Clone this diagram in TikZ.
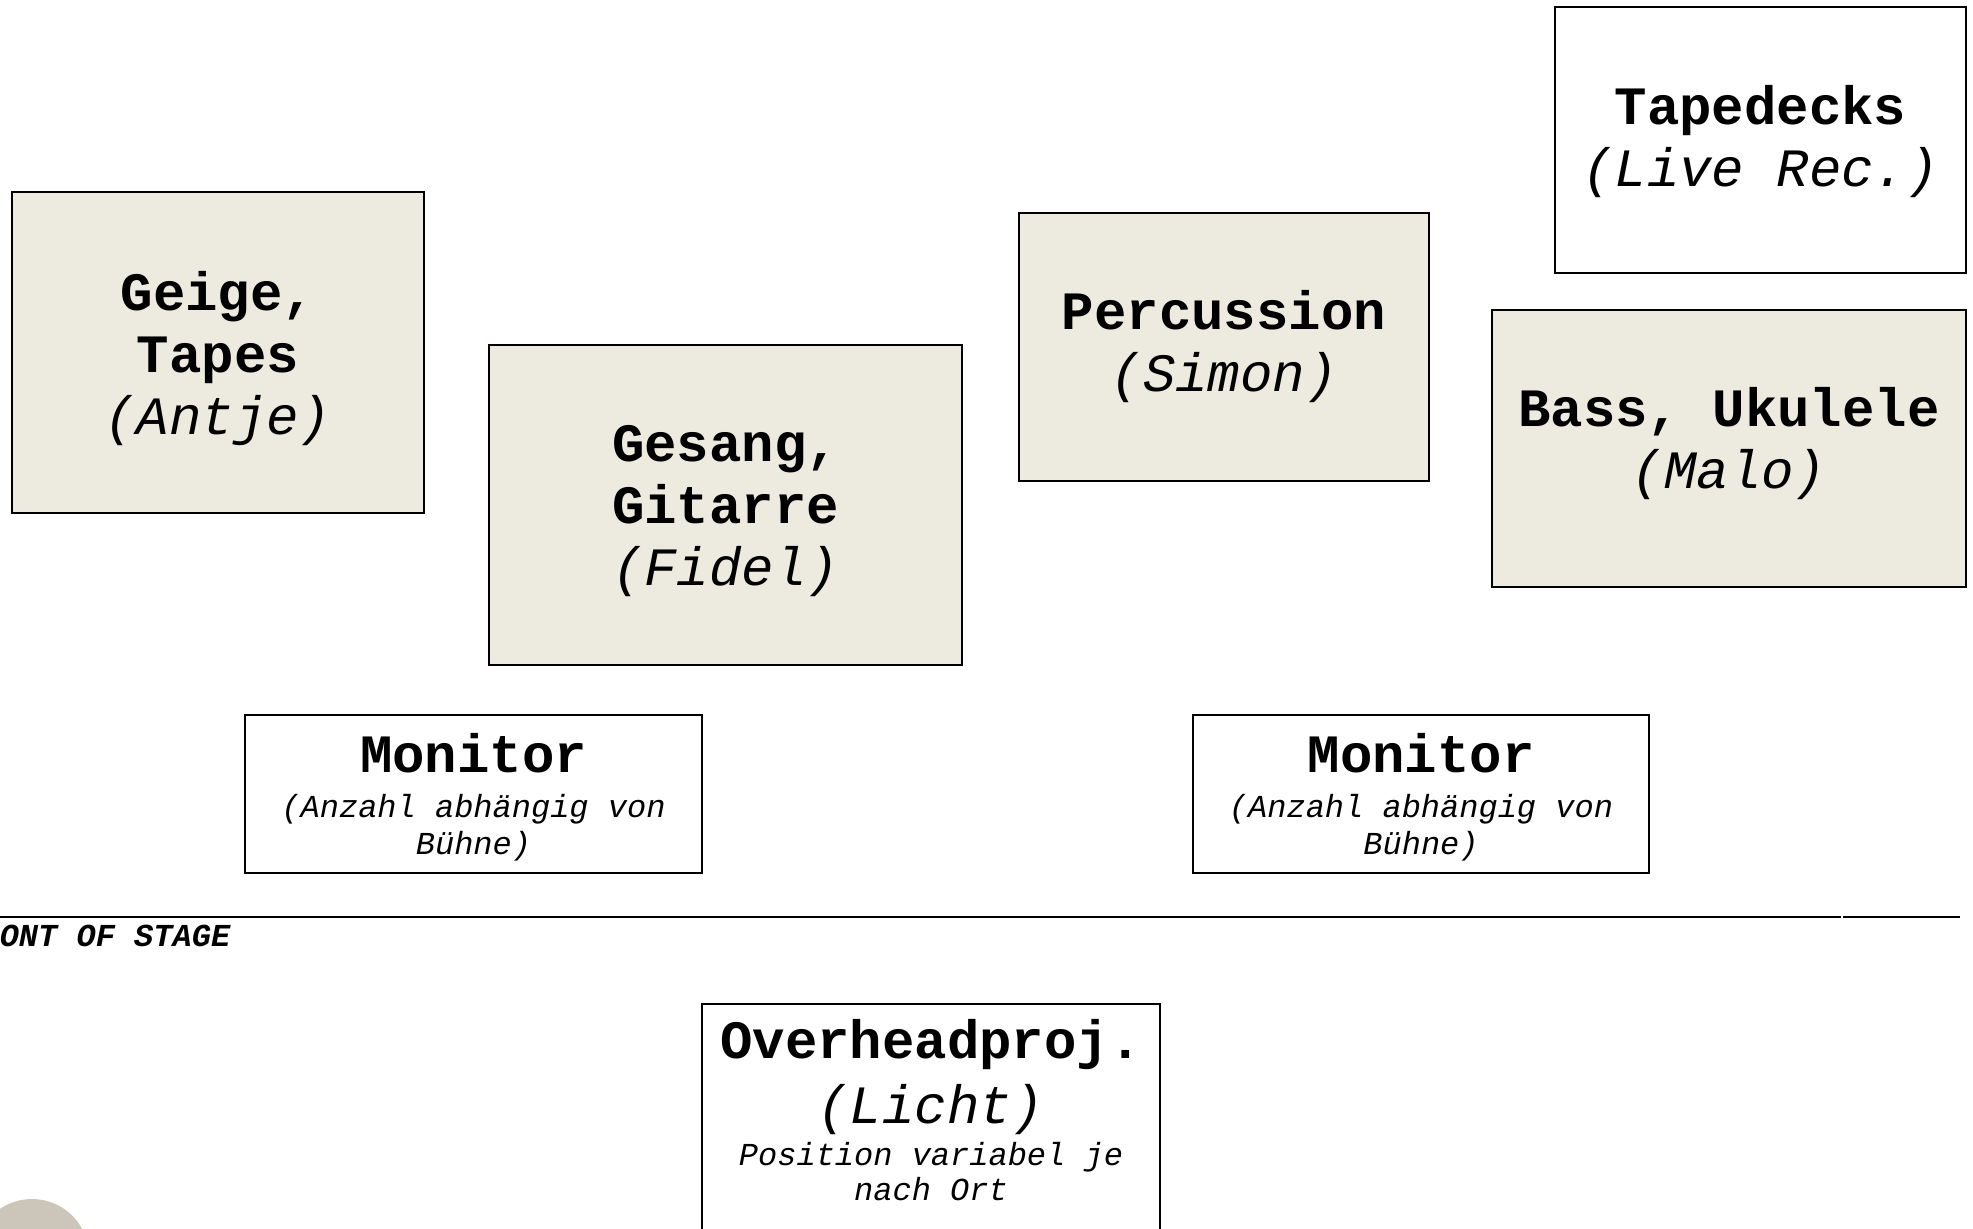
\documentclass[tikz,border=0pt]{standalone}
\usepackage{fontspec}
\setmonofont{Liberation Mono}
\definecolor{beige}{RGB}{237,235,224}
\definecolor{circbeige}{RGB}{204,197,185}
\tikzset{
  box/.style={draw=black, line width=1pt, inner sep=0pt},
  player/.style={box, fill=beige},
  device/.style={box, fill=white},
  txt/.style={inner sep=0pt, align=center, font=\ttfamily\fontsize{27}{31}\selectfont},
}
\newcommand{\btl}[1]{{\bfseries #1}}
\newcommand{\itl}[1]{{\itshape #1}}
\newcommand{\sml}[1]{{\fontsize{16}{17.5}\selectfont\itshape #1}}
\begin{document}
\begin{tikzpicture}[x=0.5pt,y=-0.5pt]
\useasboundingbox (0,0) rectangle (1973,1229);
\clip (0,0) rectangle (1973,1229);

% boxes
\node[player, minimum width=206pt, minimum height=160.5pt] (geige) at (218,352.5) {};
\node[player, minimum width=236.5pt, minimum height=160pt] (gesang) at (725.5,505) {};
\node[player, minimum width=205pt, minimum height=134pt] (perc) at (1224,347) {};
\node[player, minimum width=237pt, minimum height=138.5pt] (bass) at (1729,448.5) {};
\node[device, minimum width=205.5pt, minimum height=133pt] (tape) at (1760.5,140) {};
\node[device, minimum width=228.5pt, minimum height=79pt] (mon1) at (473.5,794) {};
\node[device, minimum width=228pt, minimum height=79pt] (mon2) at (1421,794) {};
\node[device, anchor=north, minimum width=229pt, minimum height=140pt] (ohp) at (931,1003) {};

% texts
\node[txt] (geigeT) at ([yshift=-3pt]geige.center)
  {\btl{Geige,}\\\btl{Tapes}\\\itl{(Antje)}};
\node[txt] (gesangT) at ([yshift=-3pt]gesang.center)
  {\btl{Gesang,}\\\btl{Gitarre}\\\itl{(Fidel)}};
\node[txt] (percT) at (perc.center)
  {\btl{Percussion}\\\itl{(Simon)}};
\node[txt] (bassT) at ([yshift=2.5pt]bass.center)
  {\btl{Bass, Ukulele}\\\itl{(Malo)}};
\node[txt] (tapeT) at ([yshift=-1pt]tape.center)
  {\btl{Tapedecks}\\\itl{(Live Rec.)}};
\node[txt] (mon1T) at ([yshift=-1.5pt]mon1.center)
  {\btl{Monitor}\\[-8.5pt]\sml{(Anzahl abhängig von}\\[-12.5pt]\sml{Bühne)}};
\node[txt] (mon2T) at ([yshift=-1.5pt]mon2.center)
  {\btl{Monitor}\\[-8.5pt]\sml{(Anzahl abhängig von}\\[-12.5pt]\sml{Bühne)}};
\node[txt, anchor=north] (ohpT) at ([yshift=-8pt]ohp.north)
  {\btl{Overheadproj.}\\[1.25pt]\itl{(Licht)}\\[-10pt]\sml{Position variabel je}\\[-13.5pt]\sml{nach Ort}};

% front of stage
\coordinate (l0) at (0,917);
\coordinate (l1) at (1841,917);
\coordinate (l2) at (1843,917);
\coordinate (l3) at (1960,917);
\draw[line width=1pt] (l0) -- (l1);
\draw[line width=1pt] (l2) -- (l3);
\node[anchor=base west, inner sep=0pt, font=\ttfamily\bfseries\itshape\fontsize{16}{18}\selectfont] (front) at (-39,946) {FRONT OF STAGE};

\fill[circbeige] (32,1256) circle [radius=28.5pt];
\end{tikzpicture}
\end{document}
